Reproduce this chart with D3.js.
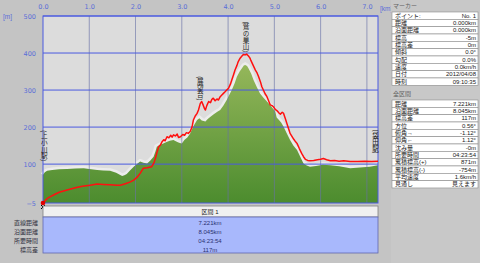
<!DOCTYPE html>
<html><head><meta charset="utf-8">
<script src="https://cdn.jsdelivr.net/npm/d3@7"></script>
<style>
body{margin:0;background:#c4c4c4;}
svg{display:block;font-family:"Liberation Sans","Noto Sans CJK JP",sans-serif;}
.axis .tick text{fill:#5a6ed8;font-size:6.5px;font-family:"DejaVu Sans",sans-serif;}
.axis path,.axis line{display:none;}
.lbl{font-size:6px;fill:#202020;}
.lm{font-family:"Noto Sans CJK JP",sans-serif;font-size:6.6px;fill:#202020;writing-mode:vertical-rl;text-orientation:mixed;}
</style></head><body><svg id="chart" width="480" height="263"></svg>
<script>
// Elevation profile (red route line) and terrain (green area), km vs metres.
const profileKm = [0.00,0.05,0.10,0.16,0.25,0.35,0.52,0.70,0.85,1.02,1.17,1.30,1.45,1.60,1.67,1.78,1.89,1.96,2.03,2.10,2.17,2.25,2.35,2.40,2.43,2.47,2.50,2.54,2.57,2.61,2.64,2.68,2.72,2.76,2.79,2.82,2.86,2.90,2.93,2.97,3.02,3.06,3.10,3.14,3.18,3.22,3.25,3.29,3.33,3.36,3.40,3.43,3.46,3.49,3.51,3.54,3.58,3.62,3.65,3.68,3.72,3.76,3.79,3.83,3.86,3.90,3.94,3.97,4.01,4.05,4.08,4.12,4.15,4.19,4.22,4.26,4.30,4.33,4.37,4.40,4.44,4.47,4.49,4.53,4.56,4.59,4.62,4.66,4.70,4.73,4.77,4.80,4.84,4.88,4.91,4.95,4.98,5.02,5.06,5.10,5.13,5.17,5.20,5.24,5.27,5.31,5.34,5.38,5.42,5.45,5.49,5.54,5.59,5.63,5.67,5.72,5.77,5.85,5.93,6.00,6.06,6.13,6.21,6.30,6.40,6.50,6.64,6.80,6.95,7.10,7.24];
const profileElev = [-5,2,8,12,18,24,30,36,40,43,46,45,44,43,43,47,52,57,64,75,89,90,93,104,116,135,147,152,160,166,163,174,171,178,173,179,176,181,172,174,180,178,185,183,188,200,219,230,237,246,264,269,260,250,246,258,269,266,275,278,271,276,273,282,286,291,296,300,305,316,327,342,354,366,377,386,392,396,395,397,392,387,381,370,362,354,348,336,322,309,298,290,282,270,260,258,255,248,244,238,235,240,237,222,210,195,183,175,167,162,156,142,129,120,113,110,109,110,112,113,115,112,109,110,108,109,107,107,108,107,108];
const terrainKm = [0.00,0.04,0.09,0.20,0.35,0.52,0.70,0.88,1.00,1.17,1.30,1.45,1.58,1.71,1.76,1.81,1.88,1.96,2.03,2.10,2.17,2.25,2.32,2.39,2.43,2.46,2.53,2.60,2.67,2.74,2.82,2.88,2.94,3.00,3.06,3.12,3.18,3.25,3.33,3.38,3.43,3.51,3.56,3.62,3.69,3.76,3.83,3.90,3.97,4.03,4.08,4.14,4.19,4.25,4.30,4.34,4.37,4.41,4.44,4.50,4.55,4.62,4.69,4.76,4.84,4.93,5.02,5.05,5.10,5.15,5.20,5.27,5.34,5.41,5.49,5.56,5.63,5.70,5.77,5.90,6.05,6.21,6.40,6.64,6.85,7.06,7.24];
const terrainElev = [71,78,82,84,86,87,88,89,87,84,83,82,77,68,70,73,83,93,100,107,104,102,110,120,134,147,152,156,160,163,165,161,158,156,166,172,183,202,219,224,218,215,222,228,235,241,246,258,273,288,300,318,336,350,359,366,368,365,359,344,327,308,291,280,269,256,242,226,219,212,201,183,165,150,138,120,102,96,93,95,98,97,94,89,91,93,97];
const xTicks = [0,1,2,3,4,5,6,7];
const yTicks = [-5,100,200,300,400,500];
const yGrid = [100,200,300,400,500];
const landmarkNames = ["(上小川駅)","(展望台)","(鷲の巣山)","(袋田駅)"];
const landmarkKm = [0.03,3.40,4.39,7.19];
const landmarkLabelElev = [108,272,402,128];
const markerLabels = ["ポイント:","距離","沿面距離","標高","標高差","傾斜","勾配","速度","日付","時刻"];
const markerValues = ["No. 1","0.000km","0.000km","-5m","0m","0.0°","0.0%","0.0km/h","2012/04/08","09:10:35"];
const totalLabels = ["距離","沿面距離","標高差","方位","俯角→","仰角←","沈み量","所要時間","累積標高(+)","累積標高(-)","平均速度","見通し"];
const totalValues = ["7.221km","8.045km","117m","0.56°","-1.12°","1.12°","-0m","04:23:54","871m","-754m","1.6km/h","見えます"];
const sectionLabels = ["直線距離","沿面距離","所要時間","標高差"];
const sectionValues = ["7.221km","8.045km","04:23:54","117m"];

const svg = d3.select("#chart");
const pL = 43, pR = 378, pT = 16, pB = 203;
const x = d3.scaleLinear().domain([0, 7.24]).range([pL, pR]);
const y = d3.scaleLinear().domain([-5, 500]).range([pB, pT]);

svg.append("rect").attr("width", 480).attr("height", 263).attr("fill", "#c4c4c4");
svg.append("rect").attr("x", pL).attr("y", pT).attr("width", pR - pL).attr("height", pB - pT).attr("fill", "#dcdcdc");

const grad = svg.append("defs").append("linearGradient").attr("id", "g").attr("gradientUnits", "userSpaceOnUse")
  .attr("x1", 0).attr("x2", 0).attr("y1", 60).attr("y2", pB);
grad.append("stop").attr("offset", 0).attr("stop-color", "#97b85c");
grad.append("stop").attr("offset", 1).attr("stop-color", "#4c8c2e");

const terrain = d3.range(terrainKm.length).map(i => [terrainKm[i], terrainElev[i]]);
const profile = d3.range(profileKm.length).map(i => [profileKm[i], profileElev[i]]);
svg.append("path").datum(terrain).attr("fill", "none").attr("stroke", "#ececec").attr("stroke-width", 5)
  .attr("d", d3.line().x(d => x(d[0])).y(d => y(d[1])));
svg.append("path").datum(terrain).attr("fill", "url(#g)")
  .attr("d", d3.area().x(d => x(d[0])).y0(pB).y1(d => y(d[1])));

// grid
svg.selectAll(".vg").data(xTicks.slice(1)).join("line").attr("x1", d => x(d)).attr("x2", d => x(d))
  .attr("y1", pT).attr("y2", pB).attr("stroke", "#6a72a8").attr("stroke-width", 0.8).attr("opacity", 0.8);
svg.selectAll(".hg").data(yGrid).join("line").attr("x1", pL).attr("x2", pR)
  .attr("y1", d => y(d)).attr("y2", d => y(d)).attr("stroke", "#4a5ae0").attr("stroke-width", 1);
svg.append("rect").attr("x", pL).attr("y", pT).attr("width", pR - pL).attr("height", pB - pT)
  .attr("fill", "none").attr("stroke", "#4a5ae0").attr("stroke-width", 1);

svg.append("path").datum(profile).attr("fill", "none").attr("stroke", "#ff1010").attr("stroke-width", 1.5)
  .attr("stroke-linejoin", "round").attr("d", d3.line().x(d => x(d[0])).y(d => y(d[1])));

// axes
svg.append("g").attr("class", "axis").attr("transform", `translate(0,${pT - 7})`)
  .call(d3.axisTop(x).tickValues(xTicks).tickFormat(d3.format(".1f")).tickSize(0).tickPadding(0));
svg.append("g").attr("class", "axis").attr("transform", `translate(${pL - 6},0)`)
  .call(d3.axisLeft(y).tickValues(yTicks).tickSize(0).tickPadding(1));
svg.append("text").attr("x", 3).attr("y", 19).attr("fill", "#5a6ed8").attr("font-size", 6.5).text("[m]");
svg.append("text").attr("x", 380).attr("y", 11).attr("fill", "#5a6ed8").attr("font-size", 6.5).text("[km]");

// landmarks (vertical text ending just above the given elevation)
svg.selectAll(".lm").data(landmarkNames).join("text").attr("class", "lm")
  .attr("x", (d, i) => x(landmarkKm[i])).attr("y", (d, i) => y(landmarkLabelElev[i]))
  .attr("text-anchor", "end").text(d => d);

// start marker
svg.append("circle").attr("cx", x(0)).attr("cy", y(-5)).attr("r", 2.3).attr("fill", "#e00000");
svg.append("path").attr("d", `M${x(0) - 2},${y(-5) + 2}l4,4m0,-4l-4,4`).attr("stroke", "#000").attr("stroke-width", 1);

// right panel
const px = 392, pw = 86, rh = 7.33;
svg.append("rect").attr("x", 391).attr("y", 0).attr("width", 89).attr("height", 263).attr("fill", "#c8c8c8");
svg.append("text").attr("x", 393).attr("y", 8).attr("class", "lbl").style("fill", "#606060").text("マーカー");
svg.append("text").attr("x", 393).attr("y", 96).attr("class", "lbl").style("fill", "#606060").text("全区間");
function table(labels, values, y0) {
  const g = svg.append("g");
  g.selectAll("rect").data(labels).join("rect").attr("x", px).attr("y", (d, i) => y0 + i * rh)
    .attr("width", pw).attr("height", rh).attr("fill", "#ffffff").attr("stroke", "#8c8c8c").attr("stroke-width", 0.6);
  g.selectAll(".l").data(labels).join("text").attr("class", "lbl").attr("x", px + 3)
    .attr("y", (d, i) => y0 + i * rh + 5.7).text(d => d);
  g.selectAll(".v").data(values).join("text").attr("class", "lbl").attr("x", px + pw - 2)
    .attr("y", (d, i) => y0 + i * rh + 5.7).attr("text-anchor", "end").text(d => d);
}
table(markerLabels, markerValues, 12);
table(totalLabels, totalValues, 100);

// bottom section table
svg.append("rect").attr("x", pL).attr("y", 206).attr("width", pR - pL).attr("height", 11)
  .attr("fill", "#f0f0f0").attr("stroke", "#808080").attr("stroke-width", 0.8);
svg.append("text").attr("x", 210).attr("y", 214).attr("text-anchor", "middle").attr("class", "lbl").text("区間 1");
svg.append("rect").attr("x", pL).attr("y", 217).attr("width", pR - pL).attr("height", 36)
  .attr("fill", "#a8b8fc").attr("stroke", "#6068b0").attr("stroke-width", 0.8);
svg.selectAll(".sl").data(sectionLabels).join("text").attr("class", "lbl").attr("x", 38)
  .attr("y", (d, i) => 225 + i * 9).attr("text-anchor", "end").style("fill", "#303040").text(d => d);
svg.selectAll(".sv").data(sectionValues).join("text").attr("class", "lbl").attr("x", 210)
  .attr("y", (d, i) => 225 + i * 9).attr("text-anchor", "middle").style("fill", "#283070").text(d => d);
</script></body></html>
